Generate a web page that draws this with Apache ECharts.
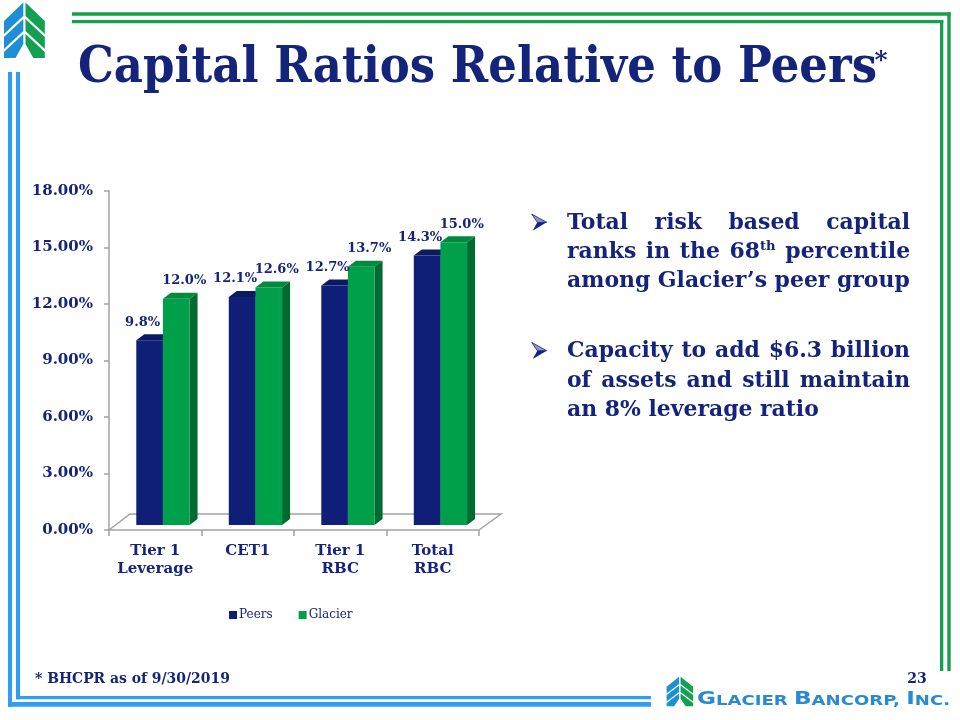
<!DOCTYPE html>
<html><head><meta charset="utf-8">
<script src="https://cdn.jsdelivr.net/npm/echarts/dist/echarts.min.js"></script>
<style>html,body{margin:0;padding:0;background:#fff}#main{width:960px;height:720px}</style>
</head><body><div id="main"></div>
<script>
// ---------- data ----------
const categories = ['Tier 1\nLeverage', 'CET1', 'Tier 1\nRBC', 'Total\nRBC'];
const seriesNames = ['Peers', 'Glacier'];
const peers = [9.8, 12.1, 12.7, 14.3];
const glacier = [12.0, 12.6, 13.7, 15.0];
const yMin = 0, yMax = 18, yStep = 3;
const titleText = 'Capital Ratios Relative to Peers';
const titleMark = '*';
const bullet1 = ['Total risk based capital', 'ranks in the 68th percentile', 'among Glacier\u2019s peer group'];
const bullet2 = ['Capacity to add $6.3 billion', 'of assets and still maintain', 'an 8% leverage ratio'];
const footnote = '* BHCPR as of 9/30/2019';
const pageNumber = '23';
const companyParts = [['G','LACIER '],['B','ANCORP, '],['I','NC.']];

// ---------- styles ----------
const NAVY = '#14247a';
const SERIF = '"DejaVu Serif", serif';
const AXIS = '#a3a3a3';
const BAR = [
  {front:'#0f1f78', side:'#0a1550', top:'#0b1a64'},
  {front:'#00a04a', side:'#006a30', top:'#008a3e'}
];
const DX = 8, DY = -6, LIFT = 5;

const ctx = document.createElement('canvas').getContext('2d');
function tw(t, size, weight, fam) { ctx.font = (weight||'bold') + ' ' + size + 'px ' + (fam||SERIF); return ctx.measureText(t).width; }

function makeRender(si) {
  return function (params, api) {
    const idx = api.value(0), val = api.value(1);
    const base = api.coord([idx, 0]);
    const topP = api.coord([idx, val]);
    const band = api.size([1, 0])[0];
    const w = band * 0.288;
    const x0 = base[0] - band * 0.205 + (si === 1 ? w : 0);
    const yb = base[1] - LIFT, yt = topP[1] - LIFT;
    const c = BAR[si];
    const ch = [];
    if (si === 0 && params.dataIndex === 0) {
      const cs = params.coordSys;
      const fy = cs.y + cs.height, fx0 = cs.x, fx1 = cs.x + cs.width;
      ch.push({type:'polyline', shape:{points:[[fx0,fy],[fx0+21,fy-16],[fx1+22,fy-16],[fx1,fy]]},
        style:{stroke:AXIS, lineWidth:1.5, fill:null}, z2:0});
    }
    ch.push({type:'polygon', shape:{points:[[x0+w,yt],[x0+w+DX,yt+DY],[x0+w+DX,yb+DY],[x0+w,yb]]}, style:{fill:c.side}, z2:5});
    ch.push({type:'rect', shape:{x:x0, y:yt, width:w, height:yb-yt}, style:{fill:c.front}, z2:6});
    ch.push({type:'polygon', shape:{points:[[x0,yt],[x0+DX,yt+DY],[x0+w+DX,yt+DY],[x0+w,yt]]}, style:{fill:c.top}, z2:6});
    ch.push({type:'text', x: x0 + w/2 + (si === 0 ? -7 : 8), y: yt - 18,
      style:{text: val.toFixed(1) + '%', font:'bold 13px ' + SERIF, fill:NAVY, align:'center', verticalAlign:'middle'}, z2:100});
    return {type:'group', children: ch};
  };
}

const chart = echarts.init(document.getElementById('main'), null, {renderer:'canvas'});

// ---------- decorative graphics ----------
const G = [];
const GREEN = '#17a04a', BLUE = '#2f9ef2';
G.push({type:'rect', shape:{x:72, y:12.3, width:878.7, height:3.4}, style:{fill:GREEN}});
G.push({type:'rect', shape:{x:72, y:20, width:871.3, height:3.3}, style:{fill:GREEN}});
G.push({type:'rect', shape:{x:940, y:20, width:3.3, height:651}, style:{fill:GREEN}});
G.push({type:'rect', shape:{x:947.3, y:12.3, width:3.4, height:658.7}, style:{fill:GREEN}});
G.push({type:'rect', shape:{x:8, y:72, width:4, height:634.7}, style:{fill:BLUE}});
G.push({type:'rect', shape:{x:16, y:72, width:4, height:627.3}, style:{fill:BLUE}});
G.push({type:'rect', shape:{x:16, y:696, width:635, height:3.3}, style:{fill:BLUE}});
G.push({type:'rect', shape:{x:8, y:702, width:643, height:4.7}, style:{fill:BLUE}});

function logo(ox, oy, sx, sy) {
  const left = [
    [[4,21],[23.3,2.5],[23.3,16],[4,34]],
    [[4,37],[23.3,19],[23.3,31],[4,49]],
    [[4,52],[23.3,34],[23.3,44],[15.5,58],[4,58]]
  ];
  const ch = [];
  left.forEach(p => {
    ch.push({type:'polygon', shape:{points:p}, style:{fill:'#1e8fd5'}});
    ch.push({type:'polygon', shape:{points:p.map(q => [48.8 - q[0], q[1]])}, style:{fill:'#12a052'}});
  });
  return {type:'group', x:ox, y:oy, scaleX:sx, scaleY:sy, children:ch};
}
G.push(logo(0, 0, 1, 1));
G.push(logo(664, 675.5, 0.65, 0.53));

// title
const fsT = 799 / tw(titleText, 100) * 100;
const sY = 37 / (0.729 * fsT);
G.push({type:'group', x:78, y:68.5, scaleY:sY, children:[
  {type:'text', x:0, y:0, style:{text:titleText, font:'bold ' + fsT.toFixed(2) + 'px ' + SERIF, fill:NAVY, align:'left', verticalAlign:'middle'}}
]});
G.push({type:'text', x:881, y:61, style:{text:titleMark, font:'bold 25px ' + SERIF, fill:NAVY, align:'center', verticalAlign:'middle'}});

// bullets
const fsB = 343 / tw(bullet1[2], 100) * 100;
const TL = 567, TR = 910;
function wordWidth(wd) {
  const m = wd.match(/^(\d+)(th)$/);
  if (m) return tw(m[1], fsB) + tw(m[2], fsB * 0.6);
  return tw(wd, fsB);
}
function drawWord(wd, x, y) {
  const m = wd.match(/^(\d+)(th)$/);
  const font = 'bold ' + fsB.toFixed(2) + 'px ' + SERIF;
  if (m) {
    G.push({type:'text', x:x, y:y, style:{text:m[1], font:font, fill:NAVY, align:'left', verticalAlign:'middle'}});
    G.push({type:'text', x:x + tw(m[1], fsB), y:y - fsB * 0.28, style:{text:m[2], font:'bold ' + (fsB*0.6).toFixed(2) + 'px ' + SERIF, fill:NAVY, align:'left', verticalAlign:'middle'}});
  } else {
    G.push({type:'text', x:x, y:y, style:{text:wd, font:font, fill:NAVY, align:'left', verticalAlign:'middle'}});
  }
}
function arrowHead(cy) {
  // 3-D arrowhead bullet
  G.push({type:'group', x:531.7, y:cy - 8.3, children:[
    {type:'polygon', shape:{points:[[0,0],[15,8.3],[5.6,8.3]]}, style:{fill:'#8e98cc', stroke:NAVY, lineWidth:0.8}},
    {type:'polygon', shape:{points:[[5.6,8.3],[15,8.3],[1,16.7]]}, style:{fill:NAVY}}
  ]});
}
function drawPara(lines, y0) {
  arrowHead(y0 - 1);
  lines.forEach((ln, li) => {
    const words = ln.split(' ');
    const widths = words.map(wordWidth);
    const sum = widths.reduce((a, b) => a + b, 0);
    const justify = li < lines.length - 1;
    const gap = justify ? (TR - TL - sum) / (words.length - 1) : tw(' ', fsB);
    let x = TL;
    const y = y0 + li * 29.2;
    words.forEach((wd, i) => { drawWord(wd, x, y); x += widths[i] + gap; });
  });
}
drawPara(bullet1, 223.3);
drawPara(bullet2, 351.7);

// footer
const fsF = 195 / tw(footnote, 100) * 100;
G.push({type:'text', x:35, y:679, style:{text:footnote, font:'bold ' + fsF.toFixed(2) + 'px ' + SERIF, fill:NAVY, align:'left', verticalAlign:'middle'}});
G.push({type:'text', x:917, y:679, style:{text:pageNumber, font:'bold 14px ' + SERIF, fill:NAVY, align:'center', verticalAlign:'middle'}});

// company name
const CB = 18, CS = 14, CF = '"DejaVu Sans"';
let rich = '', cw = 0;
companyParts.forEach(p => { rich += '{b|' + p[0] + '}{s|' + p[1] + '}'; cw += tw(p[0], CB, 'bold', CF) + tw(p[1], CS, 'bold', CF); });
G.push({type:'group', x:697, y:708, scaleX: 253 / cw, children:[
  {type:'text', x:0, y:0, style:{text:rich, align:'left', verticalAlign:'bottom', fill:'#2a8ad0',
    rich:{b:{font:'bold ' + CB + 'px ' + CF, fill:'#2a8ad0', verticalAlign:'bottom'}, s:{font:'bold ' + CS + 'px ' + CF, fill:'#2a8ad0', verticalAlign:'bottom'}}}}
]});

const option = {
  animation: false,
  backgroundColor: '#ffffff',
  grid: {left:109, top:190.7, width:370, height:339.3},
  legend: {data: seriesNames, left:224, top:604, itemWidth:8, itemHeight:8, itemGap:26, icon:'rect',
    textStyle:{fontFamily:SERIF, fontSize:12, color:NAVY, padding:[0,0,0,-3]}},
  xAxis: {type:'category', data:categories,
    axisLine:{lineStyle:{color:AXIS, width:1.5}},
    axisTick:{show:true, length:6, lineStyle:{color:AXIS, width:1.5}},
    axisLabel:{interval:0, fontFamily:SERIF, fontWeight:'bold', fontSize:15, color:NAVY, lineHeight:18, margin:12}},
  yAxis: {type:'value', min:yMin, max:yMax, interval:yStep,
    axisLine:{show:true, lineStyle:{color:AXIS, width:1.5}},
    axisTick:{show:true, length:5, lineStyle:{color:AXIS, width:1.5}},
    splitLine:{show:false},
    axisLabel:{formatter: v => v.toFixed(2) + '%', fontFamily:SERIF, fontWeight:'bold', fontSize:15, color:NAVY, margin:16}},
  series: [
    {type:'custom', name:seriesNames[0], renderItem:makeRender(0), clip:false, itemStyle:{color:BAR[0].front},
      encode:{x:0, y:1}, data: peers.map((v, i) => [i, v])},
    {type:'custom', name:seriesNames[1], renderItem:makeRender(1), clip:false, itemStyle:{color:BAR[1].front},
      encode:{x:0, y:1}, data: glacier.map((v, i) => [i, v])}
  ],
  graphic: {elements: G}
};
chart.setOption(option);
</script>
</body></html>
